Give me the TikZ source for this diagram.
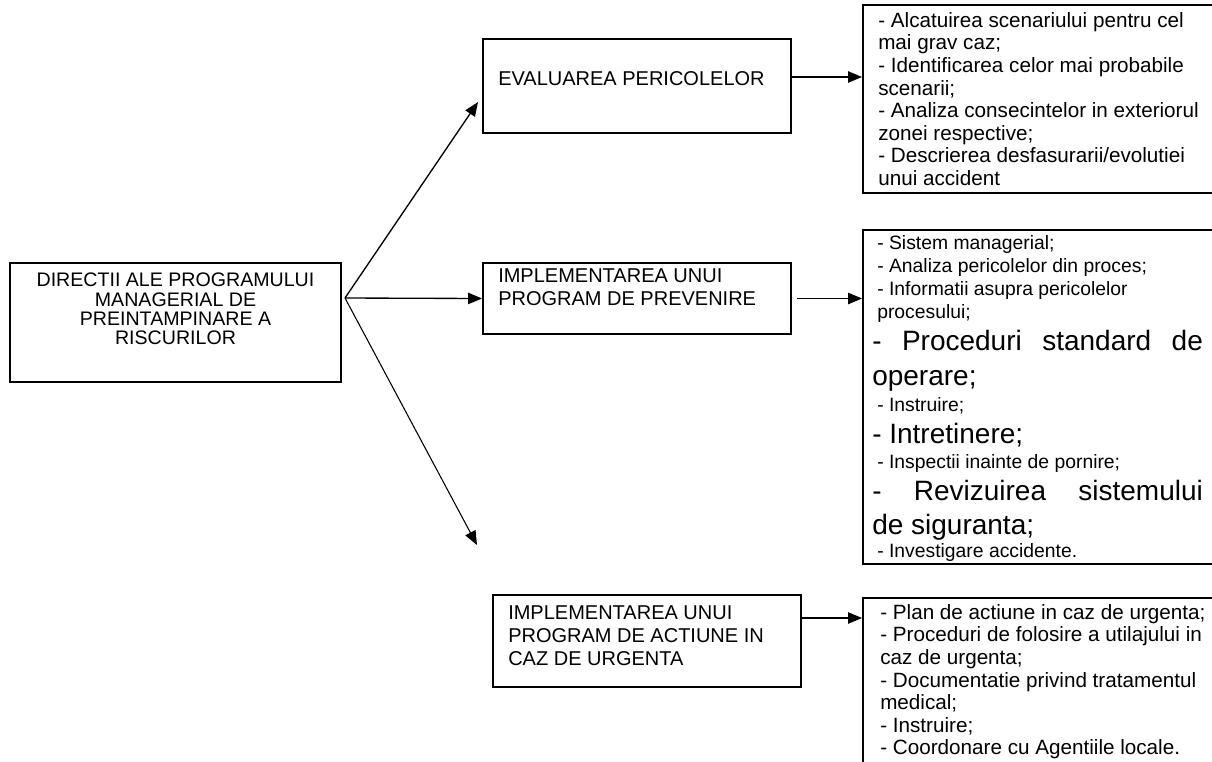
\documentclass[tikz,border=0pt]{standalone}
\usepackage{fontspec}
\setmainfont{Liberation Sans}
\usetikzlibrary{arrows.meta}
\tikzset{
  box/.style={draw, line width=1.4pt, rectangle, inner sep=0pt},
  conn/.style={line width=1pt, -{Triangle[length=10.5pt,width=8.5pt]}},
  boxtext/.style={inner sep=0pt, font=\fontsize{15}{17.25}\selectfont},
  maintextstyle/.style={inner sep=0pt, align=center, font=\fontsize{14.7}{14.5}\selectfont},
  listtext/.style={inner sep=0pt, align=left, font=\fontsize{15.5}{16.95}\selectfont},
  smallline/.style={inner sep=0pt, anchor=base west, font=\fontsize{14.5}{16}\selectfont},
  bigline/.style={inner sep=0pt, anchor=base west, font=\fontsize{21}{24}\selectfont}
}
\begin{document}
\begin{tikzpicture}[x=0.75pt,y=-0.75pt]
\useasboundingbox (0,0) rectangle (1212,761);
\clip (0,0) rectangle (1212,761);
\fill[white] (0,0) rectangle (1212,761);

% boxes
\node[box, minimum width=248.25pt, minimum height=89.25pt] (main) at (175.5,322.5) {};
\node[box, minimum width=231pt, minimum height=70.5pt] (eval) at (637,86) {};
\node[box, minimum width=231pt, minimum height=53.25pt] (prev) at (637,298.5) {};
\node[box, minimum width=231pt, minimum height=69pt] (urg) at (647,641) {};
\node[box, minimum width=275.25pt, minimum height=141pt] (r1) at (1046.5,99) {};
\node[box, minimum width=275.25pt, minimum height=250.5pt] (r2) at (1046.5,397) {};
\node[box, minimum width=275.25pt, minimum height=151.5pt] (r3) at (1046.5,699) {};

% texts of the left and middle boxes
\node[maintextstyle, anchor=north] (maintext) at (175.5,273)
  {DIRECTII ALE PROGRAMULUI\\MANAGERIAL DE\\PREINTAMPINARE A\\RISCURILOR};
\node[boxtext, anchor=base west] (evaltext) at (498,85) {EVALUAREA PERICOLELOR};
\node[boxtext, anchor=north west, align=left] (prevtext) at (498,268)
  {IMPLEMENTAREA UNUI\\PROGRAM DE PREVENIRE};
\node[boxtext, anchor=north west, align=left] (urgtext) at (508,605)
  {IMPLEMENTAREA UNUI\\PROGRAM DE ACTIUNE IN\\CAZ DE URGENTA};

% right box 1
\node[listtext, anchor=north west] (r1text) at (878,12)
  {- Alcatuirea scenariului pentru cel\\mai grav caz;\\- Identificarea celor mai probabile\\scenarii;\\- Analiza consecintelor in exteriorul\\zonei respective;\\- Descrierea desfasurarii/evolutiei\\unui accident};

% right box 2
\node[smallline] (l1) at (877,249) {- Sistem managerial;};
\node[smallline] (l2) at (877,272) {- Analiza pericolelor din proces;};
\node[smallline] (l3) at (877,295) {- Informatii asupra pericolelor};
\node[smallline] (l4) at (877,318) {procesului;};
\node[bigline] (l5) at (872,350) {\makebox[248pt][s]{- Proceduri standard de}};
\node[bigline] (l6) at (872,385) {operare;};
\node[smallline] (l7) at (877,411) {- Instruire;};
\node[bigline] (l8) at (872,443) {- Intretinere;};
\node[smallline] (l9) at (877,468) {- Inspectii inainte de pornire;};
\node[bigline] (l10) at (872,500) {\makebox[248pt][s]{- Revizuirea sistemului}};
\node[bigline] (l11) at (872,534) {de siguranta;};
\node[smallline] (l12) at (877,557) {- Investigare accidente.};

% right box 3
\node[listtext, anchor=north west] (r3text) at (880,604)
  {- Plan de actiune in caz de urgenta;\\- Proceduri de folosire a utilajului in\\caz de urgenta;\\- Documentatie privind tratamentul\\medical;\\- Instruire;\\- Coordonare cu Agentiile locale.};

% connectors
\coordinate (fork) at (345,298);
\coordinate (t1) at (478,102);
\coordinate (t3) at (477,545);
\draw[conn] (fork) -- (t1);
\draw[conn] (fork) -- (prev.west);
\draw[conn, line width=0.8pt] (fork) -- (t3);
\draw[conn] (eval.east |- 0,77) -- (r1.west |- 0,77);
\draw[conn] ([xshift=3.75pt]prev.east) -- (r2.west |- prev.east);
\draw[conn] (urg.east |- 0,618) -- (r3.west |- 0,618);
\end{tikzpicture}
\end{document}
